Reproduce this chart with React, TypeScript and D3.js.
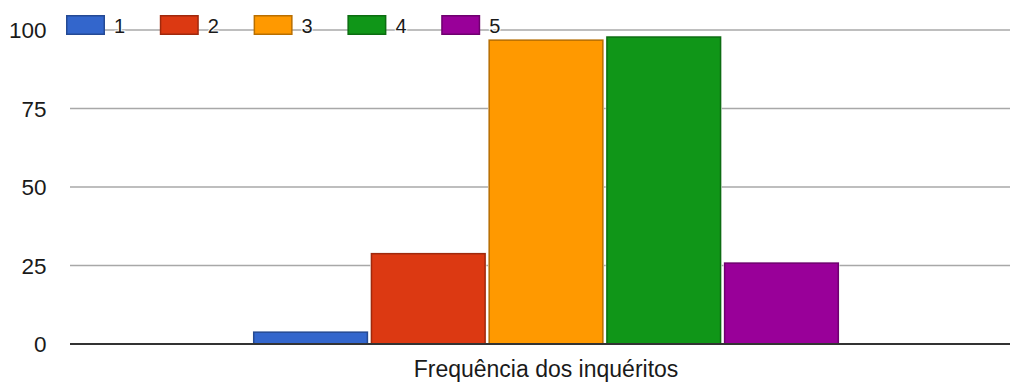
import React from "react";
import * as d3 from "d3";

const categories = ["Frequência dos inquéritos"];
const seriesNames = ["1", "2", "3", "4", "5"];
const seriesValues = [4, 29, 97, 98, 26];
const seriesColors = ["#3366cc", "#dc3912", "#ff9900", "#109618", "#990099"];
const yTicks = [0, 25, 50, 75, 100];

const W = 1012;
const H = 383;
const plotLeft = 70;
const plotRight = 1010;
const plotTop = 30;
const plotBottom = 344;
const FONT = "Arial, 'Liberation Sans', sans-serif";

export default function App() {
  const y = d3.scaleLinear().domain([0, 100]).range([plotBottom, plotTop]);
  const x0 = d3
    .scaleBand<string>()
    .domain(categories)
    .range([plotLeft, plotRight])
    .paddingInner(0)
    .paddingOuter(0.302)
    .align(0.517);
  const x1 = d3
    .scaleBand<string>()
    .domain(seriesNames)
    .range([0, x0.bandwidth()])
    .paddingInner(0.022)
    .paddingOuter(0);

  const legendStart = 66;
  const legendStep = 93.8;

  return (
    <svg
      width={W}
      height={H}
      style={{ position: "absolute", left: 0, top: 0, background: "#fff" }}
      fontFamily={FONT}
    >
      <rect x={0} y={0} width={W} height={H} fill="#fff" />
      {yTicks.map((t) => (
        <g key={t}>
          {t !== 0 && (
            <line
              x1={plotLeft}
              x2={plotRight}
              y1={y(t)}
              y2={y(t)}
              stroke="#a8a8a8"
              strokeWidth={1.6}
            />
          )}
          <text
            x={46.5}
            y={y(t)}
            dy="0.36em"
            textAnchor="end"
            fontSize={22.5}
            fill="#1a1a1a"
          >
            {t}
          </text>
        </g>
      ))}
      {categories.map((c) => (
        <g key={c} transform={`translate(${x0(c)},0)`}>
          {seriesNames.map((s, i) => {
            const v = seriesValues[i];
            const col = seriesColors[i];
            const bx = x1(s)!;
            const by = y(v);
            const bw = x1.bandwidth();
            const bh = y(0) - y(v);
            return (
              <g key={s}>
                <rect
                  x={bx - 0.5}
                  y={by - 0.5}
                  width={bw + 1}
                  height={bh + 0.5}
                  fill="#f4f4f4"
                />
                <rect
                  x={bx + 0.75}
                  y={by + 0.75}
                  width={bw - 1.5}
                  height={bh - 0.75}
                  fill={col}
                  stroke={d3.color(col)!.darker(0.9).formatHex()}
                  strokeWidth={1.5}
                />
              </g>
            );
          })}
          <text
            x={x0.bandwidth() / 2}
            y={377}
            textAnchor="middle"
            fontSize={23}
            fill="#1a1a1a"
          >
            {c}
          </text>
        </g>
      ))}
      <line
        x1={plotLeft}
        x2={plotRight}
        y1={plotBottom}
        y2={plotBottom}
        stroke="#333"
        strokeWidth={2}
      />
      {seriesNames.map((s, i) => {
        const lx = legendStart + i * legendStep;
        const col = seriesColors[i];
        return (
          <g key={s}>
            <rect
              x={lx + 0.75}
              y={15.75}
              width={37.5}
              height={18.5}
              fill={col}
              stroke={d3.color(col)!.darker(0.9).formatHex()}
              strokeWidth={1.5}
            />
            <text
              x={lx + 48}
              y={33}
              fontSize={20}
              fill="#1a1a1a"
              stroke="#fff"
              strokeWidth={2}
              paintOrder="stroke"
            >
              {s}
            </text>
          </g>
        );
      })}
    </svg>
  );
}
